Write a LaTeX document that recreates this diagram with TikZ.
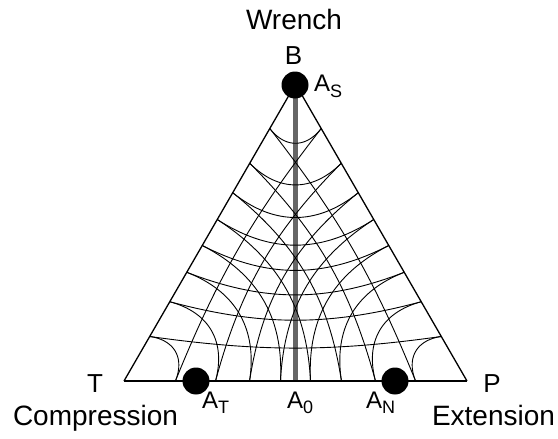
\documentclass[tikz,border=0pt]{standalone}
\usepackage{fontspec}
\setmainfont{Liberation Sans}
\usepackage{tikz}
\usetikzlibrary{positioning,calc}
\usepackage{xcolor}
\definecolor{axisGrey}{HTML}{666666}
\newcommand{\lowidx}[1]{\raisebox{-5.5pt}{\fontsize{18}{18}\selectfont #1}}

\begin{document}
\begin{tikzpicture}[x=1pt,y=-1pt,
  gridline/.style={black,line width=0.9pt},
  edge/.style={black,line width=1.3pt,line join=round},
  word/.style={font=\fontsize{28}{30}\selectfont,inner sep=0pt,anchor=base},
  corner/.style={font=\fontsize{26}{28}\selectfont,inner sep=0pt,anchor=base},
  axlabel/.style={font=\fontsize{24}{26}\selectfont,inner sep=0pt,anchor=base west},
  dot/.style={circle,fill=black,inner sep=0pt,minimum size=27pt},
  declare function={
    gx(\u,\v,\w)=(124*\u+295.5*\v+467*\w)/(\u+\v+\w);
    gy(\u,\v,\w)=(381*\u+84*\v+381*\w)/(\u+\v+\w);
  }]
\useasboundingbox (0,0) rectangle (558,439);
\coordinate (T) at (124,381);
\coordinate (B) at (295.5,84);
\coordinate (P) at (467,381);
\coordinate (zero) at (295.5,381);
\draw[axisGrey,line width=4.5pt] (B)--(zero);
\foreach \a in {10,20,...,80}{
  \draw[gridline] plot[smooth,domain=0:90,samples=46,variable=\t]
    ({gx(sin(\a),cos(\a)*sin(\t),cos(\a)*cos(\t))},{gy(sin(\a),cos(\a)*sin(\t),cos(\a)*cos(\t))});
  \draw[gridline] plot[smooth,domain=0:90,samples=46,variable=\t]
    ({gx(cos(\a)*cos(\t),sin(\a),cos(\a)*sin(\t))},{gy(cos(\a)*cos(\t),sin(\a),cos(\a)*sin(\t))});
  \draw[gridline] plot[smooth,domain=0:90,samples=46,variable=\t]
    ({gx(cos(\a)*cos(\t),cos(\a)*sin(\t),sin(\a))},{gy(cos(\a)*cos(\t),cos(\a)*sin(\t),sin(\a))});
}
\draw[edge] (P)--(B)--(T);
\draw[black,line width=2.8pt] (T)--(P);
\node[dot] (aS) at (295,85) {};
\node[dot] (aT) at (196,381) {};
\node[dot] (aN) at (395,381) {};
\node[word] (wrench) at (294,30) {Wrench};
\node[corner] (lb) at (293.5,64) {B};
\node[corner] (lt) at (95,392) {T};
\node[corner] (lp) at (492,392) {P};
\node[word] (comp) at (95.5,425) {Compression};
\node[word] (ext) at (493.5,425) {Extension};
\node[axlabel] (laS) at (314,92) {A\lowidx{S}};
\node[axlabel] (laT) at (202,408) {A\lowidx{T}};
\node[axlabel] (la0) at (287,408) {A\lowidx{0}};
\node[axlabel] (laN) at (366,408) {A\lowidx{N}};
\end{tikzpicture}
\end{document}
